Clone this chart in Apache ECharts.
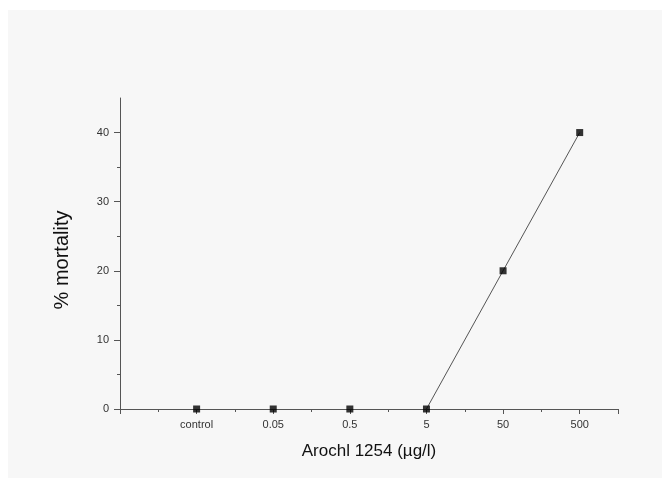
<!DOCTYPE html>
<html>
<head>
<meta charset="utf-8">
<script src="https://cdn.jsdelivr.net/npm/echarts@6/dist/echarts.min.js"></script>
<style>
  html, body { margin: 0; padding: 0; background: #fff; }
  #main { width: 662px; height: 478px; }
</style>
</head>
<body>
<div id="main"></div>
<script>
// concentrations on the x axis (positions 1..6)
var doseLabels = ['', 'control', '0.05', '0.5', '5', '50', '500'];
var mortality = [0, 0, 0, 0, 20, 40];
var yTicks = [0, 10, 20, 30, 40];
var yMinorTicks = [5, 15, 25, 35];
// only 5, 50 and 500 are joined by a line
var lineFrom = 3;

var myChart = echarts.init(document.getElementById('main'));

var points = [];
var linePoints = [];
for (var i = 0; i < mortality.length; i++) {
	points.push([i + 1, mortality[i]]);
	if (i >= lineFrom) {
		linePoints.push([i + 1, mortality[i]]);
	}
}

var font = 'Liberation Sans, Arial, sans-serif';

var option = {
	backgroundColor: '#fff',
	animation: false,
	graphic: [{
		type: 'rect',
		z: -10,
		shape: { x: 8, y: 10, width: 662, height: 478 },
		style: { fill: '#f7f7f7' }
	}, {
		// y axis title
		type: 'text',
		x: 62,
		y: 260,
		rotation: Math.PI / 2,
		style: {
			text: '% mortality',
			font: '20px ' + font,
			fill: '#111',
			align: 'center',
			verticalAlign: 'middle'
		}
	}],
	grid: { left: 120, right: 44, top: 98, bottom: 69 },
	xAxis: {
		type: 'value',
		min: 0,
		max: 6.5,
		interval: 1,
		name: 'Arochl 1254 (µg/l)',
		nameLocation: 'middle',
		nameGap: 34,
		nameTextStyle: { fontFamily: font, fontSize: 17, color: '#111' },
		splitLine: { show: false },
		axisLine: { lineStyle: { color: '#555', width: 1 } },
		axisTick: { inside: false, length: 5, lineStyle: { color: '#555' } },
		minorTick: { show: true, splitNumber: 2, length: 3, lineStyle: { color: '#555' } },
		axisLabel: {
			margin: 10,
			fontFamily: font,
			fontSize: 11,
			color: '#333',
			showMaxLabel: false,
			formatter: function (v) { return doseLabels[v] || ''; }
		}
	},
	yAxis: [{
		type: 'value',
		min: 0,
		max: 45,
		interval: 10,
		splitLine: { show: false },
		axisLine: { show: true, lineStyle: { color: '#555', width: 1 } },
		axisTick: { show: true, length: 6, customValues: yTicks, lineStyle: { color: '#555' } },
		axisLabel: { margin: 11, fontFamily: font, fontSize: 11, color: '#333', customValues: yTicks }
	}, {
		// minor ticks only
		type: 'value',
		position: 'left',
		min: 0,
		max: 45,
		interval: 10,
		splitLine: { show: false },
		axisLine: { show: false },
		axisTick: { show: true, length: 3, customValues: yMinorTicks, lineStyle: { color: '#555' } },
		axisLabel: { show: false }
	}],
	series: [{
		type: 'line',
		data: linePoints,
		showSymbol: false,
		lineStyle: { color: '#555', width: 1 },
		z: 2
	}, {
		type: 'scatter',
		data: points,
		symbol: 'rect',
		symbolSize: 7,
		itemStyle: { color: '#000' },
		z: 3
	}]
};

myChart.setOption(option);
window.onresize = myChart.resize;
</script>
</body>
</html>
